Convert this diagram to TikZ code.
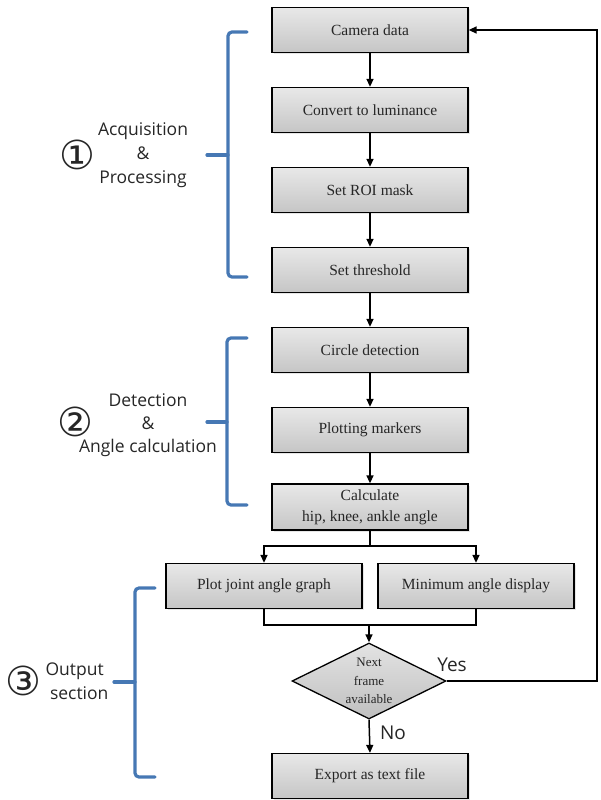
\documentclass[tikz,border=0pt]{standalone}
\usepackage{fontspec}
\setmainfont{Liberation Serif}
\newfontfamily\labfont{Open Sans}
\newfontfamily\symfont{DejaVu Sans}
\usetikzlibrary{shapes.geometric,arrows.meta,shadows}
\definecolor{braceblue}{RGB}{70,120,180}
\begin{document}
\begin{tikzpicture}[x=1pt,y=-1pt,
  procbox/.style={draw=black, line width=1.3pt, top color=gray!18, bottom color=gray!45,
    drop shadow={opacity=0.2, shadow xshift=1.5pt, shadow yshift=-1.5pt},
    minimum width=196pt, minimum height=45pt, inner sep=2pt, align=center,
    text=black!85, font=\fontsize{15.5}{17}\selectfont},
  decbox/.style={diamond, draw=black, line width=1.3pt, top color=gray!22, bottom color=gray!50,
    minimum width=154pt, minimum height=76pt, aspect=2, inner sep=0pt, align=center,
    text=black!85, font=\fontsize{13}{18.5}\selectfont},
  flow/.style={line width=1.5pt, -{Triangle[length=8pt,width=7pt]}},
  link/.style={line width=1.5pt},
  bracestyle/.style={draw=braceblue, line width=3.2pt, rounded corners=4pt, line cap=round},
  labtext/.style={font=\labfont\fontsize{17.5}{24}\selectfont, align=center, text=black!85},
  numtext/.style={font=\symfont\fontsize{40}{40}\selectfont, text=black!85, inner sep=0pt}
]
\useasboundingbox (0,0) rectangle (600,800);
% boxes
\node[procbox] (cam) at (370,30) {Camera data};
\node[procbox] (lum) at (370,110) {Convert to luminance};
\node[procbox] (roi) at (370,190) {Set ROI mask};
\node[procbox] (thr) at (370,270) {Set threshold};
\node[procbox] (cir) at (370,350) {Circle detection};
\node[procbox] (mrk) at (370,430) {Plotting markers};
\node[procbox, minimum height=46pt, font=\fontsize{15.5}{21}\selectfont] (calc) at (370,507) {Calculate\\hip, knee, ankle angle};
\node[procbox] (plot) at (264,586) {Plot joint angle graph};
\node[procbox] (mina) at (476,586) {Minimum angle display};
\node[decbox] (dec) at (369,681) {Next\\frame\\available};
\node[procbox] (exp) at (370,776) {Export as text file};
% coordinates
\coordinate (split) at (370,546);
\coordinate (sl) at (264,546);
\coordinate (sr) at (476,546);
\coordinate (ml) at (264,625);
\coordinate (mr) at (476,625);
\coordinate (merge) at (369,625);
\coordinate (fbr) at (597,681);
\coordinate (fbt) at (597,30);
% connectors
\draw[flow] (cam) -- (lum);
\draw[flow] (lum) -- (roi);
\draw[flow] (roi) -- (thr);
\draw[flow] (thr) -- (cir);
\draw[flow] (cir) -- (mrk);
\draw[flow] (mrk) -- (calc);
\draw[link] (calc.south) -- (split);
\draw[flow] (split) -- (sl) -- (plot.north);
\draw[flow] (split) -- (sr) -- (mina.north);
\draw[link] (plot.south) -- (ml) -- (mr) -- (mina.south);
\draw[flow] (merge) -- (dec.north);
\draw[flow] (dec.south) -- (exp.north);
\draw[flow] (dec.east) -- (fbr) -- (fbt) -- (cam.east);
\node[font=\labfont\fontsize{19}{19}\selectfont, text=black!85] (yes) at (452,665) {Yes};
\node[font=\labfont\fontsize{19}{19}\selectfont, text=black!85] (no) at (393,733) {No};
% braces
\draw[bracestyle] (247,32) -- (228,32) -- (228,277) -- (247,277);
\draw[bracestyle, rounded corners=0pt] (207,155) -- (228,155);
\draw[bracestyle] (247,338) -- (227,338) -- (227,505) -- (247,505);
\draw[bracestyle, rounded corners=0pt] (207,422) -- (227,422);
\draw[bracestyle] (155,588) -- (135,588) -- (135,777) -- (155,777);
\draw[bracestyle, rounded corners=0pt] (114,682) -- (135,682);
% labels
\node[numtext] (n1) at (77,155) {①};
\node[labtext] (l1) at (143,155) {Acquisition\\\&\\Processing};
\node[numtext] (n2) at (75,422) {②};
\node[labtext, font=\labfont\fontsize{17.5}{23}\selectfont] (l2) at (148,425) {Detection\\\&\\Angle calculation};
\node[numtext] (n3) at (23,681) {③};
\node[labtext, align=left] (l3) at (77,681) {Output\\\ section};
\end{tikzpicture}
\end{document}
